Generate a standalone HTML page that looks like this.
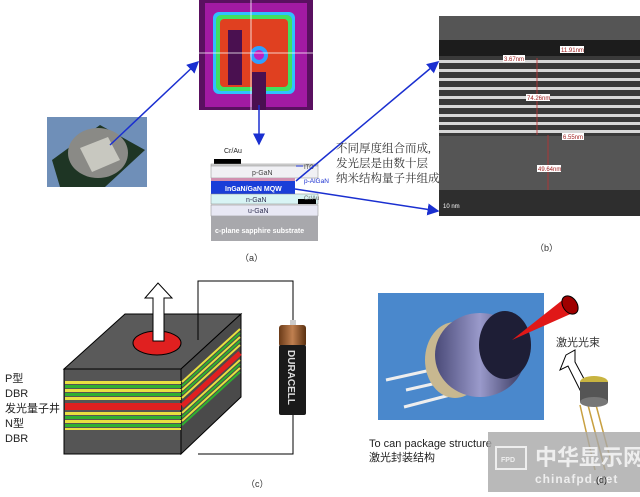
<!DOCTYPE html>
<html><head><meta charset="utf-8"><style>
body{margin:0;background:#fff;}
svg text{font-family:"Liberation Sans","Noto Sans CJK SC",sans-serif;}
</style></head><body>
<svg width="640" height="492" viewBox="0 0 640 492" xmlns="http://www.w3.org/2000/svg">
<defs>
<marker id="ah" markerWidth="8" markerHeight="8" refX="7" refY="4" orient="auto"><path d="M0,0 L8,4 L0,8 z" fill="#1a2fd0"/></marker>
<linearGradient id="bat" x1="0" x2="1"><stop offset="0" stop-color="#6a3a18"/><stop offset="0.5" stop-color="#c08050"/><stop offset="1" stop-color="#5a3010"/></linearGradient>
<linearGradient id="can" x1="0" x2="1"><stop offset="0" stop-color="#4a4a78"/><stop offset="0.5" stop-color="#9a9acb"/><stop offset="1" stop-color="#34345a"/></linearGradient>
</defs>

<!-- LED photo -->
<rect x="47" y="117" width="100" height="70" fill="#6f8fb8"/>
<polygon points="52,160 100,125 145,150 105,187 60,187" fill="#1e3524"/>
<ellipse cx="98" cy="153" rx="30" ry="25" fill="#8a8a86"/>
<polygon points="80,148 108,137 120,160 92,172" fill="#c8c8c0"/>

<!-- thermal image -->
<rect x="199" y="0" width="114" height="110" fill="#5a1060"/>
<rect x="205" y="3" width="102" height="104" fill="#c020c0" opacity="0.7"/>
<rect x="213" y="12" width="82" height="82" rx="6" fill="#30c0ff"/>
<rect x="216" y="15" width="76" height="76" rx="5" fill="#40e060"/>
<rect x="220" y="19" width="68" height="68" rx="4" fill="#e04020"/>
<rect x="228" y="30" width="14" height="55" fill="#4a1050"/>
<rect x="252" y="72" width="14" height="38" fill="#4a1050"/>
<circle cx="259" cy="55" r="9" fill="#30a0ff"/><circle cx="259" cy="55" r="5" fill="#c020c0"/>
<line x1="199" y1="53" x2="313" y2="53" stroke="#fff" stroke-width="0.8"/>
<line x1="251" y1="0" x2="251" y2="110" stroke="#fff" stroke-width="0.8"/>

<line x1="110" y1="145" x2="198" y2="62" stroke="#1a2fd0" stroke-width="1.5" marker-end="url(#ah)"/>
<line x1="259" y1="105" x2="259" y2="144" stroke="#1a2fd0" stroke-width="1.5" marker-end="url(#ah)"/>

<!-- layer stack -->
<text x="224" y="153" font-size="7" fill="#222">Cr/Au</text>
<rect x="214" y="159" width="27" height="5" fill="#000"/>
<rect x="211" y="164" width="107" height="2" fill="#ddd" stroke="#888" stroke-width="0.5"/>
<rect x="211" y="166" width="107" height="12" fill="#f0f0f4" stroke="#888" stroke-width="0.5"/>
<text x="252" y="175" font-size="7" fill="#444">p-GaN</text>
<rect x="211" y="178" width="84" height="3" fill="#d090b0"/>
<rect x="211" y="181" width="84" height="13" fill="#1a3ed8"/>
<text x="225" y="191" font-size="7" fill="#fff" font-weight="bold">InGaN/GaN MQW</text>
<rect x="211" y="194" width="107" height="10" fill="#d8f4f4" stroke="#888" stroke-width="0.5"/>
<rect x="298" y="199" width="18" height="5" fill="#000"/>
<text x="246" y="202" font-size="7" fill="#335">n-GaN</text>
<rect x="211" y="205" width="107" height="11" fill="#e8e8f4" stroke="#888" stroke-width="0.5"/>
<text x="248" y="213" font-size="7" fill="#335">u-GaN</text>
<rect x="211" y="216" width="107" height="25" fill="#a8a8ac"/>
<text x="215" y="233" font-size="7" fill="#fff" font-weight="bold">c-plane sapphire substrate</text>
<text x="304" y="169" font-size="6" fill="#444">ITO</text>
<line x1="303" y1="166" x2="296" y2="166" stroke="#1a2fd0" stroke-width="1"/>
<text x="304" y="183" font-size="6.5" fill="#1a2fd0">p-AlGaN</text>
<text x="304" y="200" font-size="6" fill="#666">Cr/Au</text>
<text x="240" y="261" font-size="9" fill="#333">（a）</text>

<line x1="296" y1="181" x2="438" y2="62" stroke="#1a2fd0" stroke-width="1.5" marker-end="url(#ah)"/>
<line x1="295" y1="189" x2="438" y2="211" stroke="#1a2fd0" stroke-width="1.5" marker-end="url(#ah)"/>

<text font-size="11.5" fill="#333" style="font-family:'Liberation Serif','Noto Serif CJK SC',serif"><tspan x="336" y="152">不同厚度组合而成,</tspan><tspan x="336" y="167">发光层是由数十层</tspan><tspan x="336" y="182">纳米结构量子井组成</tspan></text>

<!-- TEM -->
<rect x="439" y="16" width="201" height="200" fill="#555"/>
<rect x="439" y="40" width="201" height="16" fill="#1c1c1c"/>
<rect x="439" y="56" width="201" height="80" fill="#3a3a3a"/>
<g fill="#d8d8d8">
<rect x="439" y="60" width="201" height="3"/><rect x="439" y="69" width="201" height="3"/><rect x="439" y="78" width="201" height="3"/><rect x="439" y="87" width="201" height="3"/><rect x="439" y="96" width="201" height="3"/><rect x="439" y="105" width="201" height="3"/><rect x="439" y="114" width="201" height="3"/><rect x="439" y="122" width="201" height="3"/><rect x="439" y="130" width="201" height="3"/>
</g>
<rect x="439" y="190" width="201" height="26" fill="#2e2e2e"/>
<line x1="537" y1="58" x2="537" y2="135" stroke="#c03030" stroke-width="0.8"/>
<line x1="548" y1="135" x2="548" y2="190" stroke="#c03030" stroke-width="0.8"/>
<g font-size="6" fill="#a02020" font-family="Liberation Serif">
<rect x="560" y="46" width="24" height="7" fill="#fff"/><text x="561" y="52">11.91nm</text>
<rect x="503" y="55" width="22" height="7" fill="#fff"/><text x="504" y="61">3.67nm</text>
<rect x="526" y="94" width="24" height="7" fill="#fff"/><text x="527" y="100">74.26nm</text>
<rect x="562" y="133" width="22" height="7" fill="#fff"/><text x="563" y="139">6.55nm</text>
<rect x="537" y="165" width="24" height="7" fill="#fff"/><text x="538" y="171">49.64nm</text>
</g>
<text x="443" y="208" font-size="6" fill="#fff">10 nm</text>
<text x="535" y="251" font-size="9" fill="#333">（b）</text>

<!-- cube -->
<polygon points="64,369 181,369 241,314 125,314" fill="#5a5a5a" stroke="#000" stroke-width="1"/>
<polygon points="181,369 241,314 241,397 181,454" fill="#4a4a4a" stroke="#000" stroke-width="1"/>
<rect x="64" y="369" width="117" height="85" fill="#555" stroke="#000" stroke-width="1"/>
<g>
<rect x="65" y="381" width="116" height="3" fill="#e8e040"/><rect x="65" y="385" width="116" height="3" fill="#30b030"/>
<rect x="65" y="389" width="116" height="3" fill="#e8e040"/><rect x="65" y="393" width="116" height="3" fill="#30b030"/>
<rect x="65" y="397" width="116" height="3" fill="#e8e040"/>
<rect x="65" y="403" width="116" height="7" fill="#e02020"/>
<rect x="65" y="412" width="116" height="3" fill="#e8e040"/><rect x="65" y="416" width="116" height="3" fill="#30b030"/>
<rect x="65" y="420" width="116" height="3" fill="#e8e040"/><rect x="65" y="424" width="116" height="3" fill="#30b030"/>
<rect x="65" y="428" width="116" height="2" fill="#e8e040"/>
</g>
<g stroke-width="2">
<line x1="182" y1="382" x2="240" y2="329" stroke="#e8e040"/><line x1="182" y1="386" x2="240" y2="333" stroke="#30b030"/>
<line x1="182" y1="390" x2="240" y2="337" stroke="#e8e040"/><line x1="182" y1="394" x2="240" y2="341" stroke="#30b030"/>
<line x1="182" y1="398" x2="240" y2="345" stroke="#e8e040"/>
<line x1="182" y1="406" x2="240" y2="353" stroke="#e02020" stroke-width="5"/>
<line x1="182" y1="413" x2="240" y2="360" stroke="#e8e040"/><line x1="182" y1="417" x2="240" y2="364" stroke="#30b030"/>
<line x1="182" y1="421" x2="240" y2="368" stroke="#e8e040"/><line x1="182" y1="425" x2="240" y2="372" stroke="#30b030"/>
</g>
<ellipse cx="157" cy="343" rx="24" ry="12" fill="#e02020" stroke="#000"/>
<polygon points="153,341 153,298 145,298 158,283 172,298 164,298 164,341" fill="#fff" stroke="#000"/>
<polyline points="198,340 198,281 293,281 293,323" fill="none" stroke="#000" stroke-width="1"/>
<polyline points="293,415 293,454 198,454" fill="none" stroke="#000" stroke-width="1"/>
<rect x="290" y="320" width="6" height="5" fill="#ccc"/>
<rect x="279" y="325" width="27" height="22" rx="3" fill="url(#bat)"/>
<rect x="279" y="345" width="27" height="70" rx="2" fill="#1a1a1a"/>
<text x="0" y="0" font-size="10" font-weight="bold" fill="#ddd" transform="translate(288,350) rotate(90)">DURACELL</text>
<g font-size="11" fill="#222">
<text x="5" y="382">P型</text><text x="5" y="397">DBR</text><text x="5" y="412">发光量子井</text><text x="5" y="427">N型</text><text x="5" y="442">DBR</text>
</g>
<text x="246" y="487" font-size="9" fill="#333">（c）</text>

<!-- laser photo -->
<rect x="378" y="293" width="166" height="127" fill="#4a88cc"/>
<line x1="386" y1="380" x2="440" y2="368" stroke="#eee" stroke-width="3"/>
<line x1="406" y1="390" x2="450" y2="380" stroke="#eee" stroke-width="3"/>
<line x1="404" y1="407" x2="450" y2="395" stroke="#eee" stroke-width="3"/>
<ellipse cx="455" cy="360" rx="30" ry="38" fill="#c8b890"/>
<ellipse cx="480" cy="355" rx="45" ry="42" fill="url(#can)"/>
<ellipse cx="505" cy="345" rx="26" ry="34" fill="#1e1e36"/>
<polygon points="512,340 565,298 575,312" fill="#e01818"/>
<ellipse cx="570" cy="305" rx="7" ry="10" fill="#a00000" stroke="#000" transform="rotate(-35 570 305)"/>
<text x="556" y="346" font-size="11" fill="#333">激光光束</text>
<polygon points="566,355 575,350 575,362 590,390 582,394 568,366 560,370" fill="#fff" stroke="#000"/>
<g stroke="#c8a040" stroke-width="1.5"><line x1="580" y1="405" x2="595" y2="470"/><line x1="588" y1="405" x2="605" y2="470"/><line x1="596" y1="405" x2="612" y2="465"/></g>
<ellipse cx="594" cy="382" rx="14" ry="6" fill="#c8b440"/>
<rect x="580" y="382" width="28" height="20" fill="#555"/>
<ellipse cx="594" cy="402" rx="14" ry="5" fill="#777"/>
<text x="369" y="447" font-size="11" fill="#222">To can package structure</text>
<text x="369" y="461" font-size="11" fill="#222">激光封装结构</text>

<!-- watermark -->
<rect x="488" y="432" width="152" height="60" fill="#a8a8a8" opacity="0.8"/>
<rect x="496" y="447" width="30" height="22" fill="none" stroke="#eee" stroke-width="2"/>
<text x="501" y="462" font-size="7" fill="#eee" font-weight="bold">FPD</text>
<text x="535" y="465" font-size="22" fill="#eee" font-weight="bold">中华显示网</text>
<text x="535" y="483" font-size="12" fill="#eee" font-weight="bold" letter-spacing="1">chinafpd.net</text>
<text x="596" y="483" font-size="9" fill="#222">(d)</text>
</svg>
</body></html>
